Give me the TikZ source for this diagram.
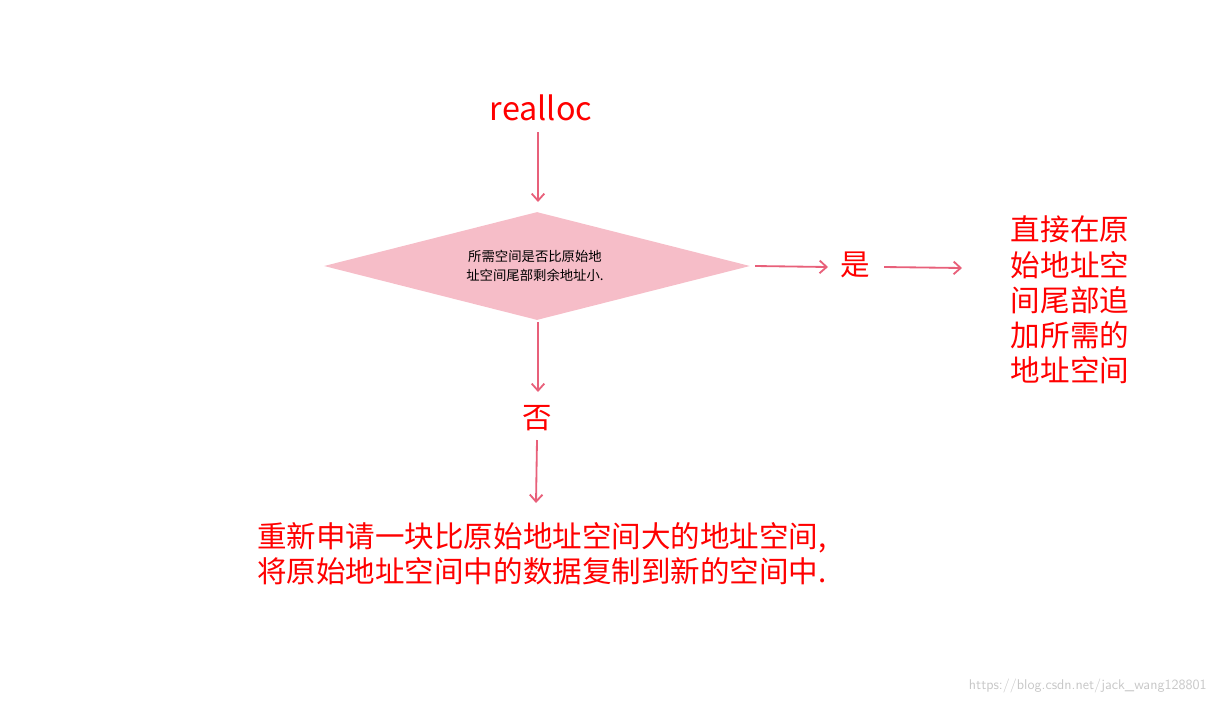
\documentclass[tikz,border=0pt]{standalone}
\usepackage{fontspec}
\setmainfont{Noto Sans CJK SC}
\usetikzlibrary{shapes.geometric,arrows.meta}
\definecolor{arr}{HTML}{E8607A}
\definecolor{dfill}{HTML}{F6BDC8}
\tikzset{
  conn/.style={draw=arr,line width=1.3pt,-{Straight Barb[length=5pt,width=9pt]}},
  redtxt/.style={text=red,font=\fontsize{21}{25}\selectfont,inner sep=0pt},
}
\begin{document}
\begin{tikzpicture}[x=0.025cm,y=-0.025cm]
\useasboundingbox (0,0) rectangle (1214,704);
\node[redtxt,font=\fontsize{23}{27}\selectfont] (r) at (541,108) {realloc};
\node[diamond,fill=dfill,aspect=3.95,minimum width=426*0.025cm,minimum height=108*0.025cm,inner sep=0pt] (d) at (537,266) {};
\node[align=center,font=\fontsize{9.5}{13}\selectfont,inner sep=0pt] at (535,266) {所需空间是否比原始地\\址空间尾部剩余地址小.};
\node[redtxt] (y) at (855,265) {是};
\node[redtxt,align=left] (t) at (1070,300) {直接在原\\始地址空\\间尾部追\\加所需的\\地址空间};
\node[redtxt] (n) at (537,418) {否};
\node[redtxt,align=left,anchor=west] (b) at (257,554) {重新申请一块比原始地址空间大的地址空间,\\将原始地址空间中的数据复制到新的空间中.};
\node[text=black!22,font=\fontsize{10}{12}\selectfont\sffamily,anchor=east,inner sep=0pt] (w) at (1207,686) {https://blog.csdn.net/jack\_wang128801};
\coordinate (a1) at (538,132); \coordinate (a2) at (538,202);
\draw[conn] (a1) -- (a2);
\coordinate (b1) at (755,266); \coordinate (b2) at (828,267);
\draw[conn] (b1) -- (b2);
\coordinate (c1) at (884,267); \coordinate (c2) at (962,268);
\draw[conn] (c1) -- (c2);
\coordinate (e1) at (538,322); \coordinate (e2) at (538,392);
\draw[conn] (e1) -- (e2);
\coordinate (f1) at (537,440); \coordinate (f2) at (536,503);
\draw[conn] (f1) -- (f2);
\end{tikzpicture}
\end{document}
